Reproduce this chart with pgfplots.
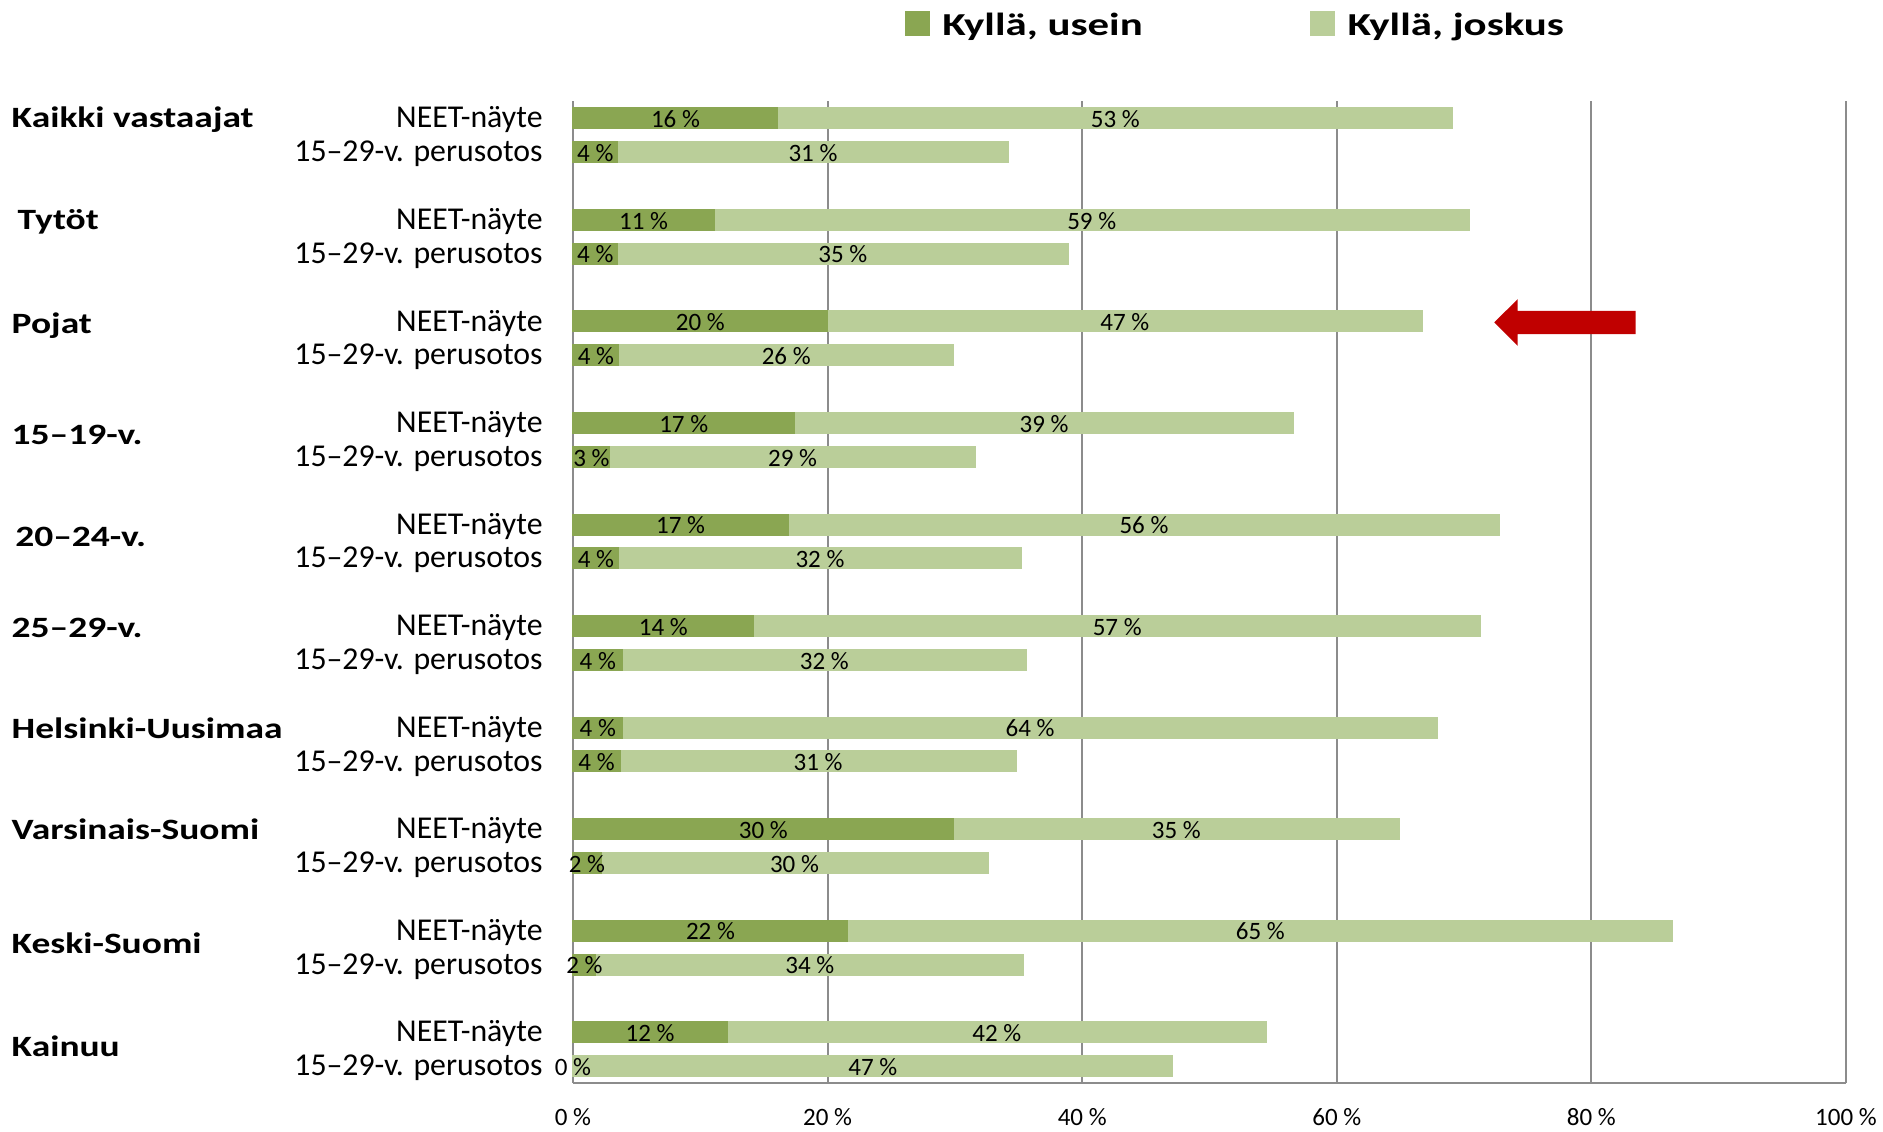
\documentclass[border=0pt]{standalone}
\usepackage{fontspec}
\setmainfont{Carlito}
\usepackage{graphicx}
\usepackage{pgfplots}
\pgfplotsset{compat=1.18}
\usepackage{pgfplotstable}

\definecolor{usein}{RGB}{138,166,82}
\definecolor{joskus}{RGB}{186,206,153}
\definecolor{gridgray}{RGB}{140,140,140}
\definecolor{nuoli}{RGB}{192,0,0}

% pos: NEET-näyte rows at 3k, 15-29-v. perusotos rows at 3k+1
% usein/joskus = bar lengths, lu/lj = printed labels
\pgfplotstableread{
pos usein joskus lu lj
0  16.1 53.0 16 53
1  3.5  30.7 4  31
3  11.1 59.3 11 59
4  3.5  35.4 4  35
6  20.0 46.7 20 47
7  3.6  26.3 4  26
9  17.4 39.2 17 39
10 2.9  28.7 3  29
12 16.9 55.9 17 56
13 3.6  31.6 4  32
15 14.2 57.1 14 57
16 3.9  31.7 4  32
18 3.9  64.0 4  64
19 3.7  31.1 4  31
21 29.9 35.0 30 35
22 2.2  30.4 2  30
24 21.6 64.8 22 65
25 1.8  33.6 2  34
27 12.1 42.4 12 42
28 0    47.1 0  47
}\kyselydata

\newcommand{\ryhma}[1]{\scalebox{1.27}[1]{\fontsize{14.75pt}{17pt}\selectfont\bfseries #1}}
\newcommand{\selite}[1]{\hspace*{4.5pt}\scalebox{1.34}[1]{\fontsize{16pt}{19pt}\selectfont\bfseries #1}}

\pgfplotsset{samebox/.style={
  width=636.5pt, height=490.8pt, scale only axis,
  xmin=0, xmax=100, ymin=-0.5, ymax=28.5, y dir=reverse, clip=false}}

\begin{document}
\begin{tikzpicture}
\path[use as bounding box] (-286.5pt,-24pt) rectangle (655pt,541.5pt);
\begin{axis}[
  samebox,
  xbar stacked, bar width=0.62,
  axis x line*=bottom, axis y line*=left,
  axis line style={draw=gridgray, line width=1pt},
  xmajorgrids, grid style={draw=gridgray, line width=1pt},
  major tick length=0pt,
  xtick={0,20,40,60,80,100},
  xticklabels={0 \%,20 \%,40 \%,60 \%,80 \%,100 \%},
  xticklabel style={font=\fontsize{12.5pt}{14pt}\selectfont, anchor=base, inner sep=0pt, yshift=-21.3pt},
  ytick={0,1,3,4,6,7,9,10,12,13,15,16,18,19,21,22,24,25,27,28},
  yticklabels={NEET-näyte,15–29-v. perusotos,NEET-näyte,15–29-v. perusotos,
    NEET-näyte,15–29-v. perusotos,NEET-näyte,15–29-v. perusotos,
    NEET-näyte,15–29-v. perusotos,NEET-näyte,15–29-v. perusotos,
    NEET-näyte,15–29-v. perusotos,NEET-näyte,15–29-v. perusotos,
    NEET-näyte,15–29-v. perusotos,NEET-näyte,15–29-v. perusotos},
  yticklabel style={font=\fontsize{15.9pt}{18pt}\selectfont, anchor=base east, inner sep=0pt, xshift=-15pt, yshift=-4.8pt},
  legend columns=2,
  legend style={at={(0.2608,1.077)}, anchor=west, draw=none, fill=none, inner sep=0pt,
    /tikz/every even column/.append style={column sep=82pt}},
  area legend,
  legend image post style={xscale=0.703, yscale=2.11, yshift=0.6pt},
]
\addplot[fill=usein, draw=usein, line width=0pt] table[x=usein, y=pos] {\kyselydata};
\addlegendentry{\selite{Kyllä, usein}}
\addplot[fill=joskus, draw=joskus, line width=0pt] table[x=joskus, y=pos] {\kyselydata};
\addlegendentry{\selite{Kyllä, joskus}}
\end{axis}

% value labels, centred in each segment
\begin{axis}[
  samebox, hide axis,
  point meta=explicit symbolic,
  nodes near coords={\pgfplotspointmeta~\%},
  every node near coord/.append style={font=\fontsize{12.5pt}{14pt}\selectfont,
    text=black, anchor=base, inner sep=0pt, yshift=-4.6pt},
]
\addplot[draw=none, mark=none] table[x expr=\thisrow{usein}/2, y=pos, meta=lu] {\kyselydata};
\addplot[draw=none, mark=none] table[x expr=\thisrow{usein}+\thisrow{joskus}/2, y=pos, meta=lj] {\kyselydata};
\end{axis}

% group names and arrow
\begin{axis}[samebox, hide axis]
\fill[nuoli] (axis cs:72.37,6.03) -- (axis cs:74.21,5.34) -- (axis cs:74.21,5.686)
  -- (axis cs:83.48,5.686) -- (axis cs:83.48,6.374) -- (axis cs:74.21,6.374)
  -- (axis cs:74.21,6.72) -- cycle;
\node[anchor=base west, inner sep=0pt, yshift=-4.8pt] at (axis cs:-44.12,0.0)  {\ryhma{Kaikki vastaajat}};
\node[anchor=base west, inner sep=0pt, yshift=-4.8pt] at (axis cs:-43.65,3.01) {\ryhma{Tytöt}};
\node[anchor=base west, inner sep=0pt, yshift=-4.8pt] at (axis cs:-44.12,6.06) {\ryhma{Pojat}};
\node[anchor=base west, inner sep=0pt, yshift=-4.8pt] at (axis cs:-44.12,9.35) {\ryhma{15–19-v.}};
\node[anchor=base west, inner sep=0pt, yshift=-4.8pt] at (axis cs:-43.84,12.37) {\ryhma{20–24-v.}};
\node[anchor=base west, inner sep=0pt, yshift=-4.8pt] at (axis cs:-44.12,15.06) {\ryhma{25–29-v.}};
\node[anchor=base west, inner sep=0pt, yshift=-4.8pt] at (axis cs:-44.12,18.04) {\ryhma{Helsinki-Uusimaa}};
\node[anchor=base west, inner sep=0pt, yshift=-4.8pt] at (axis cs:-44.12,21.02) {\ryhma{Varsinais-Suomi}};
\node[anchor=base west, inner sep=0pt, yshift=-4.8pt] at (axis cs:-44.12,24.38) {\ryhma{Keski-Suomi}};
\node[anchor=base west, inner sep=0pt, yshift=-4.8pt] at (axis cs:-44.12,27.43) {\ryhma{Kainuu}};
\end{axis}
\end{tikzpicture}
\end{document}
